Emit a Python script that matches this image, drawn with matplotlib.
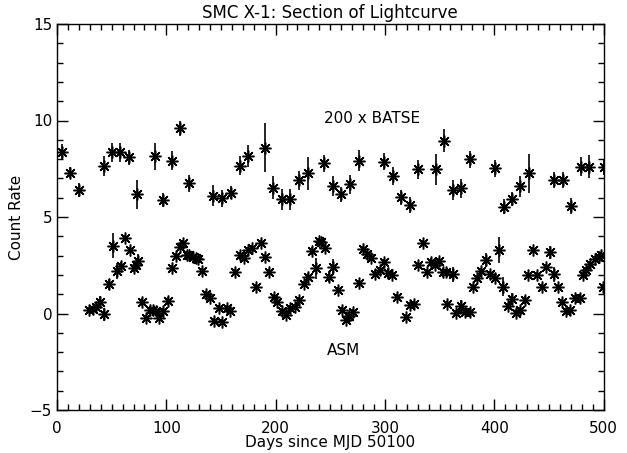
import numpy as np
import matplotlib
matplotlib.use("Agg")
import matplotlib.pyplot as plt
from matplotlib.ticker import MultipleLocator

# BATSE (scaled x200) points
batse_day = [4.5, 12, 20, 43, 50.5, 58, 66, 73.5, 89.5, 97, 105, 112.5, 120.5,
             143, 151, 159, 167, 175, 190.5, 198, 206, 213.5, 221, 229.5,
             244.5, 252.5, 260, 268, 276, 299, 307, 315, 323, 330.5, 346.5,
             354.5, 362, 369.5, 377.5, 401, 409, 416.5, 424, 432, 455, 463,
             470.5, 479, 486.5, 500]
batse_rate = [8.38, 7.3, 6.4, 7.64, 8.35, 8.35, 8.09, 6.19, 8.16, 5.88, 7.92, 9.6, 6.75,
              6.1, 5.97, 6.26, 7.66, 8.16, 8.6, 6.52, 5.92, 5.92, 6.9, 7.26,
              7.78, 6.6, 6.17, 6.69, 7.92, 7.87, 7.12, 6.02, 5.62, 7.47, 7.47,
              8.95, 6.4, 6.48, 7.99, 7.52, 5.53, 5.93, 6.6, 7.26, 6.92, 6.92,
              5.57, 7.61, 7.61, 7.6]
batse_err = [0.4, 0.3, 0.35, 0.5, 0.5, 0.5, 0.4, 0.75, 0.7, 0.35, 0.5, 0.4, 0.45,
             0.55, 0.45, 0.35, 0.5, 0.55, 1.25, 0.6, 0.55, 0.55, 0.5, 0.85,
             0.45, 0.5, 0.4, 0.5, 0.55, 0.45, 0.45, 0.4, 0.4, 0.5, 0.8,
             0.6, 0.5, 0.5, 0.45, 0.45, 0.4, 0.35, 0.55, 1.0, 0.4, 0.4,
             0.4, 0.5, 0.6, 0.4]

# RXTE ASM points
asm_day = [29.6, 32.6, 35.3, 39.3, 43.2, 47.2, 50.8, 54.5, 58.4, 62.3, 66.6, 70.2,
           72.1, 74.2, 78.2, 81.8, 84.8, 87.8, 90.3, 93, 96.9, 101.2, 105.5, 109.2,
           112.5, 115.6, 118.6, 121, 124.1, 126.8, 129.2, 132.3, 136.2, 139.9,
           143.8, 148.1, 151.4, 155.1, 158.7, 163.3, 167.2, 170.8, 174.8, 178.7,
           182.4, 186.3, 190.2, 194, 198.5, 201.5, 205.5, 209.4, 213, 217.7,
           221.6, 225.9, 229.2, 233.5, 236.9, 239.9, 241.5, 245.1, 249, 252.7,
           256.7, 260.3, 264, 267.2, 270.9, 276.1, 280, 283.6, 287.6, 291.3,
           295.2, 299.5, 303.2, 306.9, 311.4, 319.1, 323, 326.6, 330.6, 334.6,
           338.2, 341.9, 345.8, 349.7, 353.3, 355.8, 357.2, 361.9, 365.5, 369.2,
           373.1, 377.7, 380.7, 384.7, 388.3, 392.9, 396.5, 400.5, 404.5, 408.3,
           412.3, 415.9, 419.9, 423.5, 428.1, 431.1, 435.6, 439.3, 443.3, 447.2,
           450.8, 454.5, 458.4, 462.4, 466, 469.7, 473.6, 478.1, 481.1, 484.2,
           487.8, 491.8, 495.7, 497.9, 499.6]
asm_rate = [0.18, 0.23, 0.35, 0.61, -0.04, 1.51, 3.51, 2.2, 2.48, 3.9, 3.29, 2.34,
            2.51, 2.72, 0.58, -0.25, 0.18, 0.18, 0.13, -0.22, 0.13, 0.66, 2.34, 2.98,
            3.46, 3.64, 3.03, 3.03, 2.93, 2.86, 2.82, 2.2, 0.99, 0.79,
            -0.39, 0.3, -0.42, 0.27, 0.13, 2.17, 3.03, 2.89, 3.29, 3.38,
            1.39, 3.64, 2.91, 2.17, 0.87, 0.58, 0.13, -0.08, 0.27, 0.35,
            0.7, 1.51, 1.91, 3.24, 2.34, 3.76, 3.72, 3.38, 1.91, 2.43,
            1.22, 0.18, -0.34, -0.11, 0.06, 1.6, 3.34, 3.07, 2.89, 2.03,
            2.25, 2.65, 2.08, 1.99, 0.87, -0.17, 0.44, 0.49, 2.51, 3.64,
            2.13, 2.65, 2.51, 2.72, 2.17, 2.17, 0.49, 2.03, 0.01, 0.4,
            0.09, 0.09, 1.39, 1.82, 2.2, 2.77, 2.03, 1.86, 3.29, 1.39,
            0.39, 0.75, 0.01, 0.18, 0.7, 1.99, 3.29, 1.99, 1.39, 2.43,
            3.17, 2.03, 1.39, 0.61, 0.13, 0.18, 0.79, 0.79, 1.99, 2.25,
            2.55, 2.81, 2.94, 3.03, 1.39]
asm_err = [0.15, 0.15, 0.2, 0.3, 0.35, 0.3, 0.65, 0.4, 0.2, 0.15, 0.15, 0.2,
           0.2, 0.35, 0.2, 0.15, 0.15, 0.15, 0.15, 0.15, 0.15, 0.2, 0.15, 0.15,
           0.15, 0.15, 0.15, 0.15, 0.15, 0.15, 0.15, 0.15, 0.15, 0.15,
           0.15, 0.15, 0.15, 0.15, 0.15, 0.15, 0.15, 0.15, 0.15, 0.15,
           0.15, 0.15, 0.15, 0.15, 0.15, 0.15, 0.15, 0.15, 0.15, 0.15,
           0.15, 0.15, 0.2, 0.2, 0.55, 0.15, 0.15, 0.15, 0.3, 0.4,
           0.15, 0.15, 0.15, 0.15, 0.15, 0.15, 0.15, 0.15, 0.15, 0.15,
           0.15, 0.15, 0.3, 0.15, 0.15, 0.15, 0.15, 0.15, 0.15, 0.15,
           0.15, 0.2, 0.15, 0.15, 0.15, 0.15, 0.15, 0.4, 0.15, 0.3,
           0.15, 0.15, 0.15, 0.15, 0.15, 0.35, 0.15, 0.15, 0.65, 0.5,
           0.15, 0.3, 0.15, 0.15, 0.2, 0.15, 0.15, 0.15, 0.15, 0.15,
           0.35, 0.4, 0.15, 0.15, 0.15, 0.15, 0.15, 0.15, 0.15, 0.15,
           0.15, 0.15, 0.15, 0.15, 0.15]

star = (8, 2, 0)  # IDL-style asterisk (plus + cross)

fig = plt.figure(figsize=(6.27, 4.53), dpi=100)
ax = fig.add_axes([57 / 627, 1 - 410 / 453, (603.5 - 57) / 627, (410 - 24) / 453])

for d, r, e in [(batse_day, batse_rate, batse_err), (asm_day, asm_rate, asm_err)]:
    ax.errorbar(d, r, yerr=e, fmt="none", ecolor="black", elinewidth=1.2, capsize=0)
    ax.plot(d, r, ls="none", marker=star, ms=8.5, mew=1.1, color="black")

ax.set_xlim(0, 500)
ax.set_ylim(-5, 15)
ax.xaxis.set_major_locator(MultipleLocator(100))
ax.xaxis.set_minor_locator(MultipleLocator(10))
ax.yaxis.set_major_locator(MultipleLocator(5))
ax.yaxis.set_minor_locator(MultipleLocator(1))
ax.tick_params(which="both", direction="in", top=True, right=True, width=1,
               labelsize=11, colors="black")
ax.tick_params(which="major", length=8)
ax.tick_params(which="minor", length=4.3)
ax.tick_params(axis="x", pad=8)
for s in ax.spines.values():
    s.set_linewidth(1)

ax.set_title("SMC X-1: Section of Lightcurve", fontsize=12, pad=4)
ax.set_xlabel("Days since MJD 50100", fontsize=11, labelpad=-1)
ax.set_ylabel("Count Rate", fontsize=11, labelpad=4)

ax.text(288, 10.1, "200 x BATSE", ha="center", va="center", fontsize=11)
ax.text(262, -1.9, "ASM", ha="center", va="center", fontsize=11)

fig.savefig("out.png", dpi=100)
